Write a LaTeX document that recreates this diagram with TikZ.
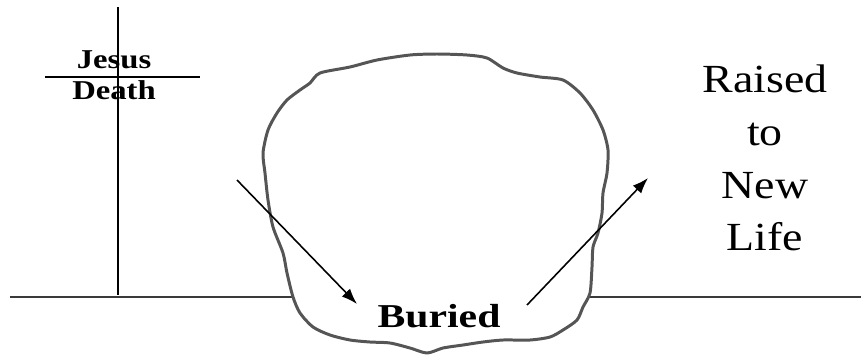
\documentclass[tikz,border=0pt]{standalone}
\usepackage{fontspec}
\setmainfont{Liberation Serif}
\usetikzlibrary{arrows.meta}
\definecolor{TombGray}{HTML}{555555}
\definecolor{GroundGray}{HTML}{3A3A3A}
\newcommand{\widetext}[2]{\scalebox{#1}[1]{#2}}

\begin{document}
\begin{tikzpicture}[x=0.02cm,y=-0.02cm,every node/.style={align=center,inner sep=0pt}]
  \useasboundingbox (0,0) rectangle (861,362);
  % cross
  \coordinate (ctop) at (118,7);
  \coordinate (cbot) at (118,295);
  \coordinate (cleft) at (45,77);
  \coordinate (cright) at (200,77);
  \draw[line width=1.1pt] (ctop) -- (cbot);
  \draw[line width=1.1pt] (cleft) -- (cright);
  \node[anchor=base,font=\bfseries\fontsize{15.5}{17}\selectfont] (jesus) at (114,68) {\widetext{1.2}{Jesus}};
  \node[anchor=base,font=\bfseries\fontsize{15.5}{17}\selectfont] (death) at (114,99) {\widetext{1.2}{Death}};
  % ground
  \coordinate (gl) at (10,297);
  \coordinate (gm1) at (293,297);
  \coordinate (gm2) at (590,297);
  \coordinate (gr) at (861,297);
  \draw[GroundGray,line width=1.2pt] (gl) -- (gm1);
  \draw[GroundGray,line width=1.2pt] (gm2) -- (gr);
  % tomb
  \draw[TombGray,line width=1.7pt,line join=round] plot[smooth cycle,tension=0.45] coordinates {
    (320,73) (350,67) (377,60) (410,55) (437,54) (467,55) (487,58) (503,68) (517,73)
    (540,77) (563,80) (580,93) (593,110) (603,130) (608,150) (607,173) (603,193)
    (602,213) (598,233) (593,247) (592,267) (590,293) (583,307) (577,320) (563,330)
    (550,337) (530,340) (503,340) (483,342) (463,345) (443,348) (427,353) (410,348)
    (390,343) (370,342) (350,340) (330,335) (313,327) (300,313) (293,297) (287,273)
    (283,253) (273,227) (268,200) (265,173) (263,153) (268,130) (277,113) (287,100)
    (300,90) (310,83)};
  \node[anchor=base,font=\bfseries\fontsize{19}{22}\selectfont] (buried) at (439,327) {\widetext{1.25}{Buried}};
  \node[font=\fontsize{22.7}{30}\selectfont] (raised) at (765,158) {\widetext{1.15}{Raised}\\\widetext{1.15}{to}\\\widetext{1.15}{New}\\\widetext{1.15}{Life}};
  % arrows
  \coordinate (downstart) at (237,180);
  \coordinate (downend) at (357,304);
  \coordinate (upstart) at (527,305);
  \coordinate (upend) at (648,178);
  \draw[-{Latex[length=9pt,width=6.5pt]},line width=0.9pt] (downstart) -- (downend);
  \draw[-{Latex[length=9pt,width=6.5pt]},line width=0.9pt] (upstart) -- (upend);
\end{tikzpicture}
\end{document}
